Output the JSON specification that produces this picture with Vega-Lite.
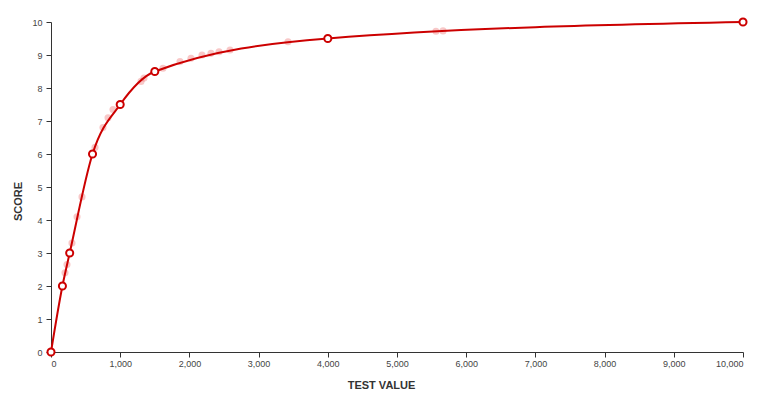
{
  "$schema": "https://vega.github.io/schema/vega-lite/v6.json",
  "width": 692,
  "height": 330,
  "autosize": "none",
  "padding": {"left": 51, "top": 22, "right": 21, "bottom": 52},
  "background": "white",
  "config": {
    "view": {"stroke": null},
    "axis": {
      "grid": false,
      "domainColor": "#333333",
      "tickColor": "#333333",
      "tickSize": 5,
      "labelColor": "#444444",
      "labelFont": "Liberation Sans",
      "labelFontSize": 9,
      "titleFont": "Liberation Sans",
      "titleFontSize": 11,
      "titleFontWeight": "bold",
      "titleColor": "#333333"
    }
  },
  "datasets": {
    "main": [
      {"x": 0, "y": 0},
      {"x": 165, "y": 2},
      {"x": 270, "y": 3},
      {"x": 600, "y": 6},
      {"x": 1000, "y": 7.5},
      {"x": 1500, "y": 8.5},
      {"x": 4000, "y": 9.5},
      {"x": 10000, "y": 10}
    ],
    "scatter": [
      {"x": 202, "y": 2.4},
      {"x": 231, "y": 2.65},
      {"x": 303, "y": 3.3},
      {"x": 376, "y": 4.1},
      {"x": 448, "y": 4.7},
      {"x": 636, "y": 6.2},
      {"x": 751, "y": 6.8},
      {"x": 824, "y": 7.1},
      {"x": 896, "y": 7.35},
      {"x": 1301, "y": 8.2},
      {"x": 1344, "y": 8.3},
      {"x": 1618, "y": 8.6},
      {"x": 1864, "y": 8.8},
      {"x": 2023, "y": 8.9},
      {"x": 2182, "y": 9.0},
      {"x": 2312, "y": 9.05},
      {"x": 2428, "y": 9.1},
      {"x": 2587, "y": 9.15},
      {"x": 3425, "y": 9.4},
      {"x": 5563, "y": 9.72},
      {"x": 5665, "y": 9.73}
    ]
  },
  "encoding": {
    "x": {
      "field": "x",
      "type": "quantitative",
      "scale": {"domain": [0, 10000], "nice": false, "zero": true},
      "axis": {
        "title": "TEST VALUE",
        "format": ",d",
        "values": [0,1000,2000,3000,4000,5000,6000,7000,8000,9000,10000],
        "labelPadding": 2,
        "titleX": 330,
        "titleY": 33,
        "titleAlign": "center",
        "titleBaseline": "middle",
        "titleAnchor": null
      }
    },
    "y": {
      "field": "y",
      "type": "quantitative",
      "scale": {"domain": [0, 10], "nice": false},
      "axis": {
        "title": "SCORE",
        "format": "d",
        "values": [0,1,2,3,4,5,6,7,8,9,10],
        "labelPadding": 4,
        "titleX": -33,
        "titleY": 179,
        "titleAlign": "center",
        "titleBaseline": "middle",
        "titleAngle": -90
      }
    }
  },
  "layer": [
    {
      "data": {"name": "scatter"},
      "mark": {"type": "circle", "size": 50, "color": "#e84a4a", "opacity": 0.3}
    },
    {
      "data": {"name": "main"},
      "mark": {"type": "line", "interpolate": "monotone", "color": "#cc0000", "strokeWidth": 2}
    },
    {
      "data": {"name": "main"},
      "mark": {"type": "point", "shape": "circle", "size": 50, "filled": false, "fill": "white", "fillOpacity": 1, "stroke": "#cc0000", "strokeWidth": 2, "opacity": 1}
    }
  ]
}
